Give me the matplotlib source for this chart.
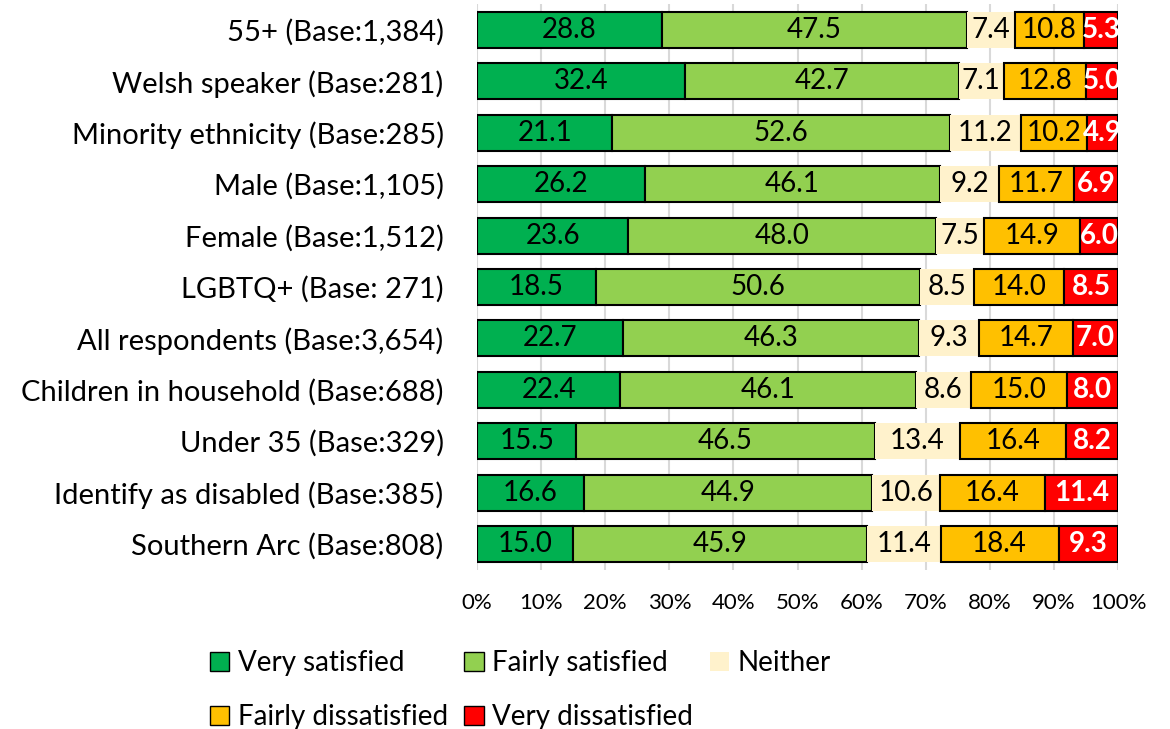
import numpy as np
import matplotlib.pyplot as plt
from matplotlib.patches import Patch
import matplotlib.ticker as mticker

plt.rcParams['font.family'] = ['Lato', 'DejaVu Sans']

# Categorias (de cima para baixo)
grupos = [
    "55+ (Base:1,384)",
    "Welsh speaker (Base:281)",
    "Minority ethnicity (Base:285)",
    "Male (Base:1,105)",
    "Female (Base:1,512)",
    "LGBTQ+ (Base: 271)",
    "All respondents (Base:3,654)",
    "Children in household (Base:688)",
    "Under 35 (Base:329)",
    "Identify as disabled (Base:385)",
    "Southern Arc (Base:808)",
]

muito_satisfeito = [28.8, 32.4, 21.1, 26.2, 23.6, 18.5, 22.7, 22.4, 15.5, 16.6, 15.0]
satisfeito = [47.5, 42.7, 52.6, 46.1, 48.0, 50.6, 46.3, 46.1, 46.5, 44.9, 45.9]
nenhum = [7.4, 7.1, 11.2, 9.2, 7.5, 8.5, 9.3, 8.6, 13.4, 10.6, 11.4]
insatisfeito = [10.8, 12.8, 10.2, 11.7, 14.9, 14.0, 14.7, 15.0, 16.4, 16.4, 18.4]
muito_insatisfeito = [5.3, 5.0, 4.9, 6.9, 6.0, 8.5, 7.0, 8.0, 8.2, 11.4, 9.3]

series = ["Very satisfied", "Fairly satisfied", "Neither",
          "Fairly dissatisfied", "Very dissatisfied"]
cores = ["#00B050", "#92D050", "#FFF2CC", "#FFC000", "#FF0000"]

valores = np.array([muito_satisfeito, satisfeito, nenhum,
                    insatisfeito, muito_insatisfeito])
# 100% empilhado
totais = valores.sum(axis=0)
proporcoes = valores / totais

fig = plt.figure(figsize=(11.7, 7.29), dpi=100)
ax = fig.add_axes([0.4077, 0.2185, 0.548, 0.7755])

y = np.arange(len(grupos))
esquerda = np.zeros(len(grupos))
for i, (nome, cor) in enumerate(zip(series, cores)):
    if nome == "Neither":
        barras = ax.barh(y, proporcoes[i], left=esquerda, height=0.7,
                         color=cor, edgecolor="none", zorder=3)
    else:
        barras = ax.barh(y, proporcoes[i], left=esquerda, height=0.7,
                         color=cor, edgecolor="black", linewidth=1.5, zorder=3)
    for j in range(len(grupos)):
        cx = esquerda[j] + proporcoes[i][j] / 2
        if nome == "Very dissatisfied":
            ax.text(cx, y[j], f"{valores[i][j]:.1f}", ha="center", va="center",
                    fontsize=20, color="white", fontweight="bold", zorder=5)
        else:
            ax.text(cx, y[j], f"{valores[i][j]:.1f}", ha="center", va="center",
                    fontsize=20, color="black", zorder=5)
    esquerda += proporcoes[i]

ax.set_xlim(0, 1)
ax.set_ylim(len(grupos) - 0.5, -0.5)
ax.set_yticks(y)
ax.set_yticklabels(grupos, fontsize=21)
ax.set_xticks(np.arange(0, 1.01, 0.1))
ax.xaxis.set_major_formatter(mticker.PercentFormatter(1.0, decimals=0))
ax.tick_params(axis="x", labelsize=16, length=0, pad=17)
ax.tick_params(axis="y", length=0, pad=24)
ax.grid(axis="x", color="#D9D9D9", linewidth=1.5, zorder=0)
for lado in ax.spines.values():
    lado.set_visible(False)

# Legenda em 3 colunas (ordem por coluna)
ordem = [0, 3, 1, 4, 2]
alcas = []
for k in ordem:
    if series[k] == "Neither":
        alcas.append(Patch(facecolor=cores[k], edgecolor="none", label=series[k]))
    else:
        alcas.append(Patch(facecolor=cores[k], edgecolor="black", label=series[k]))
fig.legend(handles=alcas, ncol=3, loc="lower left", bbox_to_anchor=(0.158, -0.036),
           frameon=False, fontsize=20, handlelength=0.7, handleheight=0.7,
           handletextpad=0.3, columnspacing=0.6, labelspacing=1.0)

fig.savefig("out.png", dpi=100)
